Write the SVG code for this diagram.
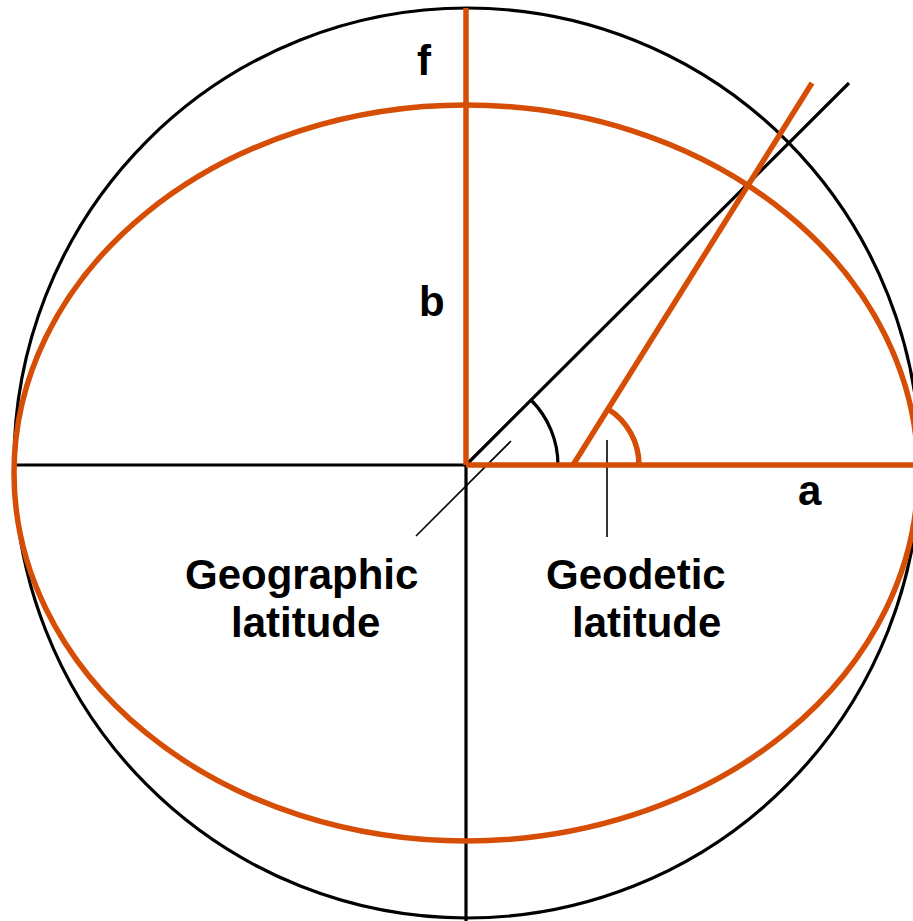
<svg xmlns="http://www.w3.org/2000/svg" width="913" height="921" viewBox="0 0 913 921">
<style>
.blk{fill:none;stroke:#000;stroke-width:3.2}
.thin{fill:none;stroke:#000;stroke-width:1.6}
.org{fill:none;stroke:#D64D05;stroke-width:5.5}
.lbl{font-family:"Liberation Sans",Arial,sans-serif;font-weight:bold;font-size:42px;fill:#000}
</style>
<rect width="913" height="921" fill="#fff"/>
<g id="sphere"><ellipse class="blk" cx="467" cy="463" rx="453" ry="455"/></g>
<g id="connectors">
<line class="blk" x1="15" y1="465" x2="466" y2="465"/>
<line class="blk" x1="466" y1="465" x2="466" y2="921"/>
<line class="blk" x1="466" y1="465" x2="849" y2="83"/>
<path class="blk" d="M558,465 A92,92 0 0 0 531,400"/>
<line class="thin" x1="416" y1="536" x2="511" y2="441"/>
<line class="thin" x1="607" y1="440" x2="607" y2="537"/>
</g>
<g id="ellipsoid"><ellipse class="org" cx="466" cy="473" rx="452" ry="368"/></g>
<g id="axes">
<line class="org" x1="466" y1="8" x2="466" y2="465"/>
<line class="org" x1="466" y1="465" x2="913" y2="465"/>
<line class="org" x1="573" y1="465" x2="812" y2="83"/>
<path class="org" d="M639,465 A66,66 0 0 0 608,409"/>
</g>
<g id="labels">
<text class="lbl" x="417" y="75">f</text>
<text class="lbl" x="419" y="316">b</text>
<text class="lbl" x="798" y="505">a</text>
<text class="lbl" x="185" y="589">Geographic</text>
<text class="lbl" x="231" y="637">latitude</text>
<text class="lbl" x="546" y="589">Geodetic</text>
<text class="lbl" x="572" y="637">latitude</text>
</g>
</svg>
